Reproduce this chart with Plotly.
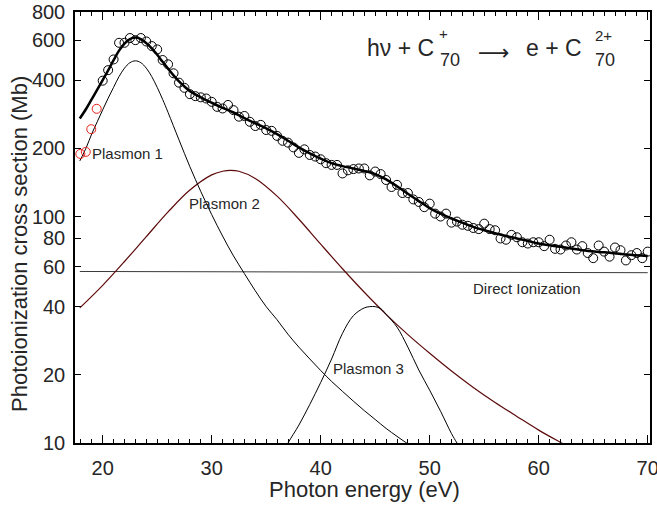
import plotly.graph_objects as go

# ---------------- data ----------------
energy = [20.0, 20.5, 21.0, 21.5, 22.0, 22.5, 23.0, 23.5, 24.0, 24.5,
          25.0, 25.5, 26.0, 26.5, 27.0, 27.5, 28.0, 28.5, 29.0, 29.5,
          30.0, 30.5, 31.0, 31.5, 32.0, 32.5, 33.0, 33.5, 34.0, 34.5,
          35.0, 35.5, 36.0, 36.5, 37.0, 37.5, 38.0, 38.5, 39.0, 39.5,
          40.0, 40.5, 41.0, 41.5, 42.0, 42.5, 43.0, 43.5, 44.0, 44.5,
          45.0, 45.5, 46.0, 46.5, 47.0, 47.5, 48.0, 48.5, 49.0, 49.5,
          50.0, 50.5, 51.0, 51.5, 52.0, 52.5, 53.0, 53.5, 54.0, 54.5,
          55.0, 55.5, 56.0, 56.5, 57.0, 57.5, 58.0, 58.5, 59.0, 59.5,
          60.0, 60.5, 61.0, 61.5, 62.0, 62.5, 63.0, 63.5, 64.0, 64.5,
          65.0, 65.5, 66.0, 66.5, 67.0, 67.5, 68.0, 68.5, 69.0, 69.5,
          70.0]
cross_section = [398, 443, 494, 585, 585, 614, 601, 614, 593, 566,
                 547, 491, 470, 429, 390, 370, 347, 340, 336, 332,
                 321, 305, 300, 311, 295, 276, 278, 262, 251, 254,
                 241, 239, 227, 216, 212, 202, 191, 198, 187, 184,
                 179, 172, 169, 169, 155, 160, 162, 163, 163, 152,
                 158, 154, 145, 135, 138, 127, 127, 119, 116, 110,
                 114, 103, 100, 103, 94, 95, 92, 91, 89, 88,
                 93, 88, 87, 80, 79, 83, 81, 77, 76, 77,
                 77, 74, 79, 72, 71.5, 74.5, 77, 71.5, 74, 69,
                 65.5, 74.5, 70, 66.5, 73, 71, 64, 67.5, 69, 65.5,
                 70]

red_energy = [17.95, 18.45, 18.95, 19.45]
red_cross_section = [189, 193, 243, 299]

fit_energy = [17.9, 18.5, 19, 19.5, 20, 20.5, 21, 21.5, 22, 22.5, 23, 23.5,
              24, 24.5, 25, 25.5, 26, 26.5, 27, 27.5, 28, 29, 30, 31, 32,
              33, 34, 35, 36, 37, 38, 39, 40, 41, 42, 43, 44, 45, 46, 47,
              48, 49, 50, 51, 52, 53, 54, 55, 56, 57, 58, 59, 60, 62, 64,
              66, 68, 70]
fit_cross_section = [271, 300, 330, 363, 400, 442, 490, 540, 580, 608, 618, 608,
                     583, 553, 518, 482, 450, 420, 395, 375, 358, 336, 318, 302, 288,
                     272, 258, 245, 231, 216, 202, 190, 180, 172, 167, 163, 159, 154, 146, 136,
                     126, 117, 109, 103, 98, 94, 90, 87, 84.5, 82, 80, 78, 76, 73.5, 71,
                     69.5, 68, 67]

plasmon1_energy = [17.9, 18.5, 19, 19.5, 20, 20.5, 21, 21.5, 22, 22.5, 23, 23.5,
                   24, 24.5, 25, 25.5, 26, 27, 28, 29, 30, 31, 32, 33, 34, 35,
                   36, 37, 38, 39, 40, 41, 42, 43, 44, 45, 46, 47, 48, 49]
plasmon1_cross_section = [176, 202, 232, 262, 296, 333, 372, 415, 452, 478, 487, 478,
                          452, 415, 372, 329, 288, 218, 166, 129, 102, 82, 67, 56, 47, 40,
                          35, 30.2, 26.5, 23.5, 20.9, 18.7, 16.9, 15.3, 13.9, 12.7, 11.6, 10.7, 9.9, 9.2]

plasmon2_energy = [17.9, 20, 22, 24, 26, 28, 30, 31, 31.7, 32.5, 34, 36, 38, 40,
                   42, 44, 46, 48, 50, 52, 54, 56, 58, 60, 62, 63]
plasmon2_cross_section = [39.5, 49.7, 63.3, 81.5, 104.8, 130.9, 152.8, 158.5, 160, 158.5,
                          147.3, 123, 97.3, 75.5, 58.8, 46.3, 37.0, 30.1, 24.9, 20.8,
                          17.6, 15.1, 13.1, 11.4, 10.06, 9.47]

plasmon3_energy = [36.5, 37, 38, 39, 40, 41, 42, 43, 44, 44.5, 45, 45.5, 46, 47,
                   48, 49, 50, 51, 52, 52.5, 53]
plasmon3_cross_section = [9.0, 10, 12.0, 14.8, 18.5, 23.5, 30.5, 36.5, 39.5, 40.0, 40.0,
                          39.2, 37.0, 32.5, 26.5, 21.0, 17.1, 13.8, 11.0, 10.0, 9.1]

direct_energy = [17.9, 70.0]
direct_cross_section = [57.2, 56.5]

y_tick_values = [10, 20, 40, 60, 80, 100, 200, 400, 600, 800]
y_tick_labels = ["10", "20", "40", "60", "80", "100", "200", "400", "600", "800"]
x_tick_values = [20, 30, 40, 50, 60, 70]

# ---------------- figure ----------------
FONT = "Liberation Sans, Arial, DejaVu Sans, sans-serif"
TXT = "#262626"

fig = go.Figure()

fig.add_trace(go.Scatter(x=direct_energy, y=direct_cross_section, mode="lines",
                         line=dict(color="#3a3a3a", width=1), showlegend=False))
fig.add_trace(go.Scatter(x=plasmon2_energy, y=plasmon2_cross_section, mode="lines",
                         line=dict(color="#5c0a0a", width=1.2, shape="spline", smoothing=1.0),
                         showlegend=False))
fig.add_trace(go.Scatter(x=plasmon1_energy, y=plasmon1_cross_section, mode="lines",
                         line=dict(color="black", width=1, shape="spline", smoothing=1.0),
                         showlegend=False))
fig.add_trace(go.Scatter(x=plasmon3_energy, y=plasmon3_cross_section, mode="lines",
                         line=dict(color="black", width=1, shape="spline", smoothing=1.0),
                         showlegend=False))
fig.add_trace(go.Scatter(x=fit_energy, y=fit_cross_section, mode="lines",
                         line=dict(color="black", width=2.5, shape="spline", smoothing=1.0),
                         showlegend=False))
fig.add_trace(go.Scatter(x=energy, y=cross_section, mode="markers",
                         marker=dict(symbol="circle-open", size=9, color="black",
                                     line=dict(width=1, color="black")),
                         showlegend=False))
fig.add_trace(go.Scatter(x=red_energy, y=red_cross_section, mode="markers",
                         marker=dict(symbol="circle-open", size=9, color="#e8201a",
                                     line=dict(width=1, color="#e8201a")),
                         showlegend=False))

# page body margin is removed by the post script, so figure pixels = window pixels
W, H = 657, 507
PL, PT, PR, PB = 75, 12, 650, 443          # plot area in window pixels
L, T = PL, PT
R, B = W - PR, H - PB

def px(xpix):
    return (xpix - PL) / (PR - PL)

def py(ypix):
    return (PB - ypix) / (PB - PT)

fig.update_layout(
    width=W, height=H, autosize=False,
    margin=dict(l=L, r=R, t=T, b=B, autoexpand=False),
    plot_bgcolor="white", paper_bgcolor="white",
    font=dict(family=FONT, color=TXT, size=20),
    xaxis=dict(
        range=[17.46, 70.21], tickvals=x_tick_values,
        ticks="inside", ticklen=8, tickwidth=1.2, tickcolor="black",
        showline=True, linecolor="black", linewidth=1.5, mirror="allticks",
        showgrid=False, zeroline=False, automargin=False,
        tickfont=dict(size=20, family=FONT, color=TXT),
        ticklabelstandoff=6, ticklabeloverflow="allow",
        minor=dict(dtick=1, ticks="inside", ticklen=4, tickwidth=1, tickcolor="black",
                   showgrid=False),
    ),
    yaxis=dict(
        type="log", range=[1, 2.90315],
        tickvals=y_tick_values, ticktext=y_tick_labels,
        ticks="inside", ticklen=6, tickwidth=1.2, tickcolor="black",
        showline=True, linecolor="black", linewidth=1.5, mirror="allticks",
        showgrid=False, zeroline=False, automargin=False,
        tickfont=dict(size=20, family=FONT, color=TXT),
        ticklabelstandoff=4, ticklabeloverflow="allow",
    ),
)

ann = []
def label(text, xpix, ypix, size, xanchor="left", yanchor="middle", angle=0, family=FONT):
    ann.append(dict(text=text, x=px(xpix), y=py(ypix), xref="paper", yref="paper",
                    xanchor=xanchor, yanchor=yanchor, showarrow=False, textangle=angle,
                    font=dict(family=family, size=size, color=TXT), borderpad=0))

label("Plasmon 1", 91, 154, 15)
label("Plasmon 2", 188, 203, 15)
label("Plasmon 3", 332, 368, 15)
label("Direct Ionization", 472, 288, 15)

# reaction equation with stacked super/subscripts
label("hν + C", 366, 48, 23)
label("+", 438, 34, 15)
label("70", 439, 60, 18)
label("⟶", 494, 53, 22, xanchor="center", family="DejaVu Sans")
label("e + C", 525, 48, 23)
label("2+", 594, 35, 15)
label("70", 594, 60, 18)

# axis titles
label("Photon energy (eV)", 364, 489, 22, xanchor="center")
label("Photoionization cross section (Mb)", 19, 244, 22, xanchor="center", angle=-90)

fig.update_layout(annotations=ann)
fig.write_html("out.html",
               config={"displayModeBar": False},
               post_script="document.body.style.margin='0';document.body.style.overflow='hidden';")
